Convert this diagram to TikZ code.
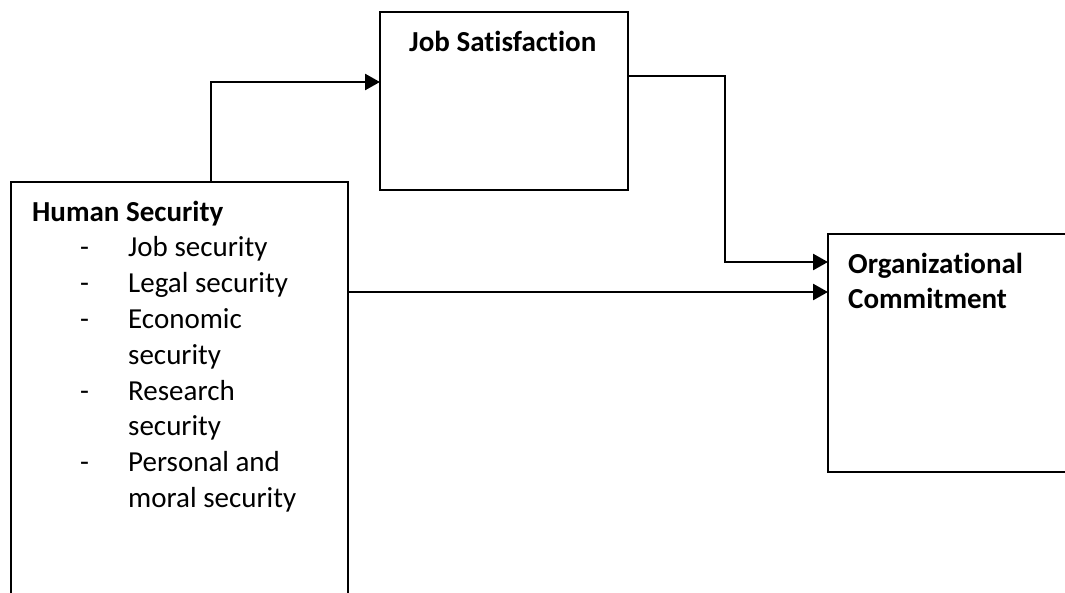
\documentclass[tikz,border=0pt]{standalone}
\usepackage{fontspec}
\setmainfont[RawFeature={-liga}]{Carlito}
\usetikzlibrary{arrows.meta}
\begin{document}
\begin{tikzpicture}[x=1pt,y=-1pt,
  box/.style={draw, line width=2.4pt, anchor=north west, inner sep=0pt, outer sep=0pt},
  conn/.style={line width=2.6pt, -{Triangle[length=15pt,width=16pt]}},
  lbl/.style={font=\fontsize{29}{35.8}\selectfont, anchor=base west, inner sep=0pt}]
\useasboundingbox (0,0) rectangle (1065,592);
\clip (0,0) rectangle (1065,592);
% boxes
\node[box, minimum width=337pt, minimum height=430pt] (hs) at (11,182) {};
\node[box, minimum width=248pt, minimum height=178pt] (js) at (380,12) {};
\node[box, minimum width=300pt, minimum height=238pt] (oc) at (828,234) {};
% texts
\node[lbl] (jst) at (409,51) {\bfseries Job Satisfaction};
\node[lbl] (oct1) at (848,273) {\bfseries Organizational};
\node[lbl] (oct2) at (848,308.8) {\bfseries Commitment};
\node[lbl] (hst) at (32,221) {\bfseries Human Security};
\node[lbl] (d1) at (80,256.8) {-};
\node[lbl] (d2) at (80,292.6) {-};
\node[lbl] (d3) at (80,328.4) {-};
\node[lbl] (d4) at (80,400) {-};
\node[lbl] (d5) at (80,471.6) {-};
\node[lbl] (i1) at (128,256.8) {Job security};
\node[lbl] (i2) at (128,292.6) {Legal security};
\node[lbl] (i3) at (128,328.4) {Economic};
\node[lbl] (i3b) at (128,364.2) {security};
\node[lbl] (i4) at (128,400) {Research};
\node[lbl] (i4b) at (128,435.8) {security};
\node[lbl] (i5) at (128,471.6) {Personal and};
\node[lbl] (i5b) at (128,507.4) {moral security};
% connectors
\coordinate (hsStart) at ([xshift=30pt]hs.north west);
\draw[conn] (hsStart) -- ++(170,0) |- ([yshift=-70pt]js.north west);
\draw[conn] ([yshift=-64pt]js.north east) -- ++(97,0) |- ([yshift=-28pt]oc.north west);
\draw[conn] ([yshift=-110pt]hs.north east) -- ([yshift=-58pt]oc.north west);
\end{tikzpicture}
\end{document}
